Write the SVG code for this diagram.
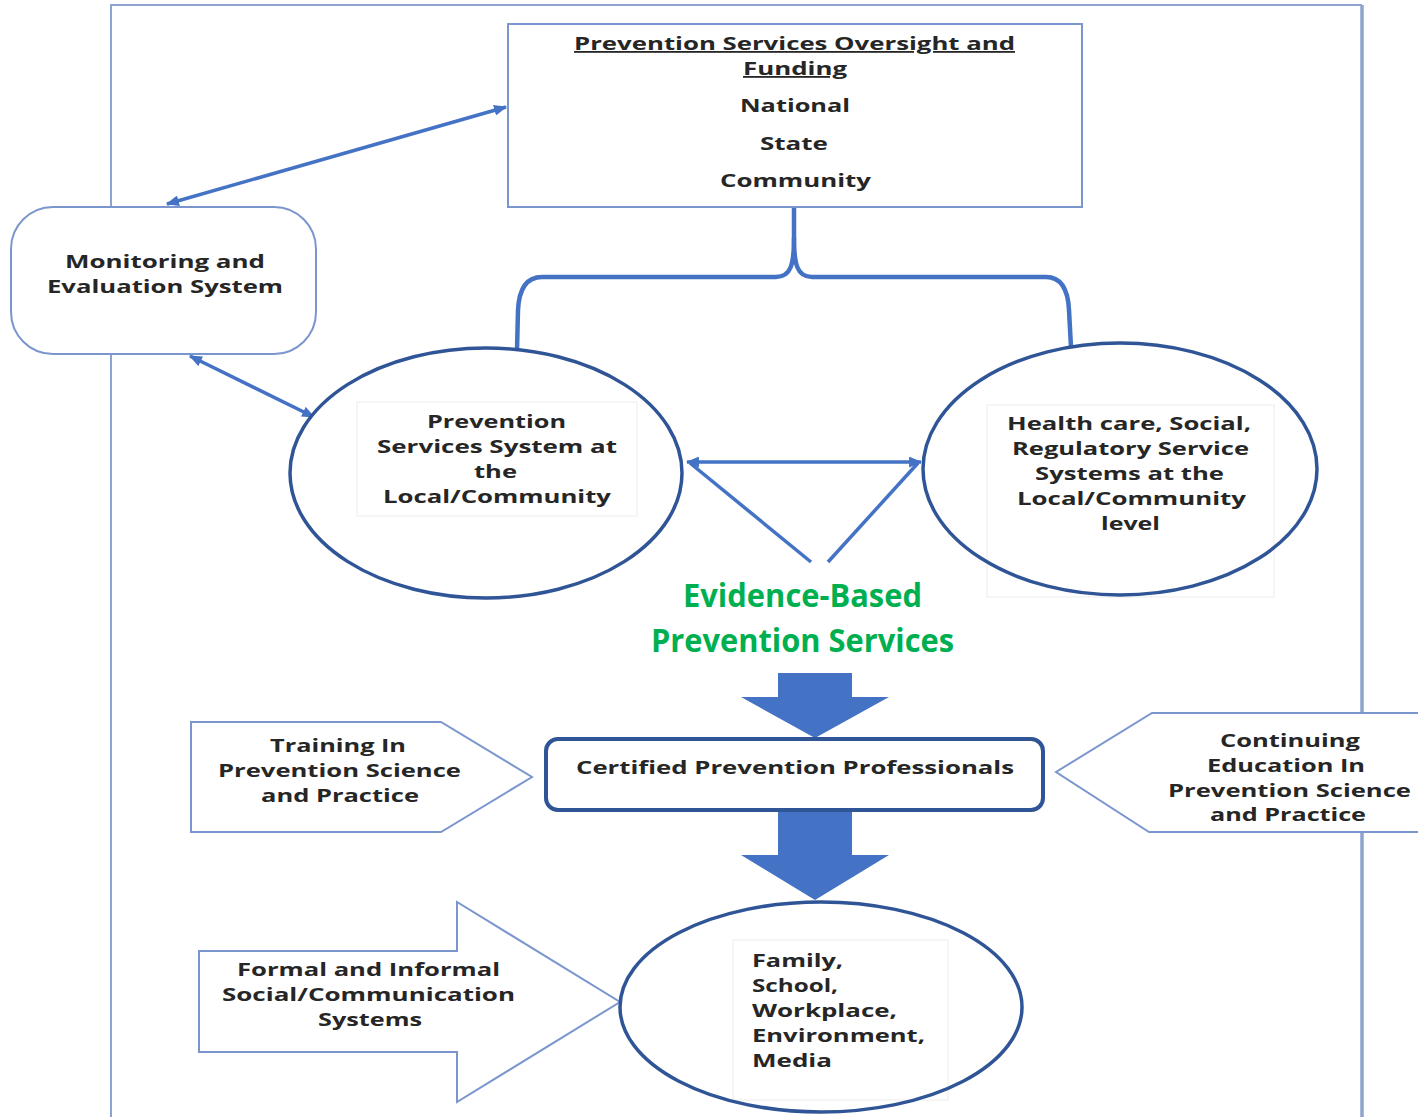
<svg xmlns="http://www.w3.org/2000/svg" width="1418" height="1117" viewBox="0 0 1418 1117">
  <defs>
    <style>
      .t { font-family: "Open Sans", "DejaVu Sans", sans-serif; font-weight: 700; font-size: 18px; fill: #262626; }
      .g { font-family: "Open Sans", "DejaVu Sans", sans-serif; font-weight: 700; font-size: 32px; fill: #00b050; }
      .box { fill: #ffffff; stroke: #7b96cf; stroke-width: 2; }
      .circ { fill: none; stroke: #2f5597; stroke-width: 3.5; }
      .tbox { fill: #ffffff; stroke: #ececec; stroke-width: 1; }
      .conn { fill: none; stroke: #4472c4; stroke-width: 3.5; }
      .brace { fill: none; stroke: #4472c4; stroke-width: 4.5; }
      .block { fill: #4472c4; }
      .frame { fill: none; stroke: #8ea3d0; }
    </style>
    <marker id="ah" viewBox="0 0 12 10" refX="11" refY="5" markerWidth="13" markerHeight="11" markerUnits="userSpaceOnUse" orient="auto-start-reverse">
      <path d="M0,0 L12,5 L0,10 z" fill="#4472c4"/>
    </marker>
  </defs>

  <rect width="1418" height="1117" fill="#ffffff"/>

  <!-- outer frame -->
  <g id="frame">
    <path class="frame" stroke-width="2" d="M111,1117 L111,5 L1362,5"/>
    <path class="frame" stroke-width="3.5" d="M1362,5 L1362,1117"/>
  </g>

  <!-- connectors -->
  <g id="connectors">
    <line class="conn" x1="167" y1="204" x2="506" y2="107" marker-start="url(#ah)" marker-end="url(#ah)"/>
    <line class="conn" x1="190" y1="356" x2="314" y2="417" marker-start="url(#ah)" marker-end="url(#ah)"/>
    <path class="brace" d="M794,208 L794,238 C794,264 791,277 776,277 L542,277 C526,277 519,290 518,310 L517,350"/>
    <path class="brace" d="M794,238 C794,264 797,277 812,277 L1046,277 C1062,277 1068,290 1069,310 L1071,347"/>
    <line class="conn" x1="687" y1="462" x2="921" y2="462" marker-start="url(#ah)" marker-end="url(#ah)"/>
    <line class="conn" x1="690" y1="463" x2="811" y2="562"/>
    <line class="conn" x1="918" y1="463" x2="828" y2="562"/>
    <!-- block arrows -->
    <path class="block" d="M778,673 L852,673 L852,697 L889,697 L815,738 L741,697 L778,697 z"/>
    <path class="block" d="M778,810 L852,810 L852,855 L889,855 L815,900 L741,855 L778,855 z"/>
  </g>

  <!-- oversight and funding -->
  <g id="oversight">
    <rect class="box" x="508" y="24" width="574" height="183"/>
    <text class="t" x="574" y="50" textLength="441" lengthAdjust="spacingAndGlyphs" text-decoration="underline">Prevention Services Oversight and</text>
    <text class="t" x="743" y="75" textLength="104" lengthAdjust="spacingAndGlyphs" text-decoration="underline">Funding</text>
    <text class="t" x="740" y="112" textLength="110" lengthAdjust="spacingAndGlyphs">National</text>
    <text class="t" x="760" y="150" textLength="68" lengthAdjust="spacingAndGlyphs">State</text>
    <text class="t" x="720" y="187" textLength="151" lengthAdjust="spacingAndGlyphs">Community</text>
  </g>

  <!-- monitoring -->
  <g id="monitoring">
    <rect class="box" x="11" y="207" width="305" height="147" rx="42" ry="42" stroke-width="1.5"/>
    <text class="t" x="65" y="268" textLength="200" lengthAdjust="spacingAndGlyphs">Monitoring and</text>
    <text class="t" x="47" y="293" textLength="236" lengthAdjust="spacingAndGlyphs">Evaluation System</text>
  </g>

  <!-- prevention services system -->
  <g id="local-prevention">
    <ellipse cx="486" cy="473" rx="196" ry="125" fill="#ffffff"/>
    <rect class="tbox" x="357" y="402" width="280" height="114"/>
    <ellipse class="circ" cx="486" cy="473" rx="196" ry="125"/>
    <text class="t" x="427" y="428" textLength="139" lengthAdjust="spacingAndGlyphs">Prevention</text>
    <text class="t" x="377" y="453" textLength="240" lengthAdjust="spacingAndGlyphs">Services System at</text>
    <text class="t" x="474" y="478" textLength="43" lengthAdjust="spacingAndGlyphs">the</text>
    <text class="t" x="383" y="503" textLength="228" lengthAdjust="spacingAndGlyphs">Local/Community</text>
  </g>

  <!-- health care / social / regulatory -->
  <g id="local-services">
    <ellipse cx="1120" cy="469" rx="197" ry="126" fill="#ffffff"/>
    <rect class="tbox" x="987" y="405" width="287" height="192"/>
    <ellipse class="circ" cx="1120" cy="469" rx="197" ry="126"/>
    <text class="t" x="1007" y="430" textLength="244" lengthAdjust="spacingAndGlyphs">Health care, Social,</text>
    <text class="t" x="1012" y="455" textLength="237" lengthAdjust="spacingAndGlyphs">Regulatory Service</text>
    <text class="t" x="1035" y="480" textLength="189" lengthAdjust="spacingAndGlyphs">Systems at the</text>
    <text class="t" x="1017" y="505" textLength="229" lengthAdjust="spacingAndGlyphs">Local/Community</text>
    <text class="t" x="1101" y="530" textLength="59" lengthAdjust="spacingAndGlyphs">level</text>
  </g>

  <!-- evidence-based label -->
  <g id="evidence">
    <text class="g" x="683" y="607" textLength="239" lengthAdjust="spacingAndGlyphs">Evidence-Based</text>
    <text class="g" x="651" y="652" textLength="303" lengthAdjust="spacingAndGlyphs">Prevention Services</text>
  </g>

  <!-- certified professionals -->
  <g id="certified">
    <rect x="546" y="739" width="497" height="71" rx="12" ry="12" fill="#ffffff" stroke="#2f5597" stroke-width="4"/>
    <text class="t" x="576" y="774" textLength="438" lengthAdjust="spacingAndGlyphs">Certified Prevention Professionals</text>
  </g>

  <!-- training -->
  <g id="training">
    <path class="box" stroke-width="1.5" d="M191,722 L441,722 L532,777 L441,832 L191,832 z"/>
    <text class="t" x="270" y="752" textLength="136" lengthAdjust="spacingAndGlyphs">Training In</text>
    <text class="t" x="218" y="777" textLength="243" lengthAdjust="spacingAndGlyphs">Prevention Science</text>
    <text class="t" x="261" y="802" textLength="158" lengthAdjust="spacingAndGlyphs">and Practice</text>
  </g>

  <!-- continuing education -->
  <g id="continuing">
    <path class="box" stroke-width="1.5" d="M1420,713 L1152,713 L1056,772 L1149,832 L1420,832"/>
    <text class="t" x="1220" y="747" textLength="140" lengthAdjust="spacingAndGlyphs">Continuing</text>
    <text class="t" x="1207" y="772" textLength="158" lengthAdjust="spacingAndGlyphs">Education In</text>
    <text class="t" x="1168" y="797" textLength="243" lengthAdjust="spacingAndGlyphs">Prevention Science</text>
    <text class="t" x="1210" y="821" textLength="156" lengthAdjust="spacingAndGlyphs">and Practice</text>
  </g>

  <!-- formal and informal systems -->
  <g id="formal">
    <path class="box" stroke-width="1.5" d="M199,951 L457,951 L457,902 L620,1002 L457,1102 L457,1052 L199,1052 z"/>
    <text class="t" x="237" y="976" textLength="263" lengthAdjust="spacingAndGlyphs">Formal and Informal</text>
    <text class="t" x="222" y="1001" textLength="293" lengthAdjust="spacingAndGlyphs">Social/Communication</text>
    <text class="t" x="318" y="1026" textLength="104" lengthAdjust="spacingAndGlyphs">Systems</text>
  </g>

  <!-- settings -->
  <g id="settings">
    <ellipse cx="821" cy="1007" rx="201" ry="105" fill="#ffffff"/>
    <rect class="tbox" x="733" y="940" width="215" height="160"/>
    <ellipse class="circ" cx="821" cy="1007" rx="201" ry="105"/>
    <text class="t" x="752" y="967" textLength="91" lengthAdjust="spacingAndGlyphs">Family,</text>
    <text class="t" x="752" y="992" textLength="86" lengthAdjust="spacingAndGlyphs">School,</text>
    <text class="t" x="752" y="1017" textLength="145" lengthAdjust="spacingAndGlyphs">Workplace,</text>
    <text class="t" x="752" y="1042" textLength="173" lengthAdjust="spacingAndGlyphs">Environment,</text>
    <text class="t" x="752" y="1067" textLength="80" lengthAdjust="spacingAndGlyphs">Media</text>
  </g>
</svg>
